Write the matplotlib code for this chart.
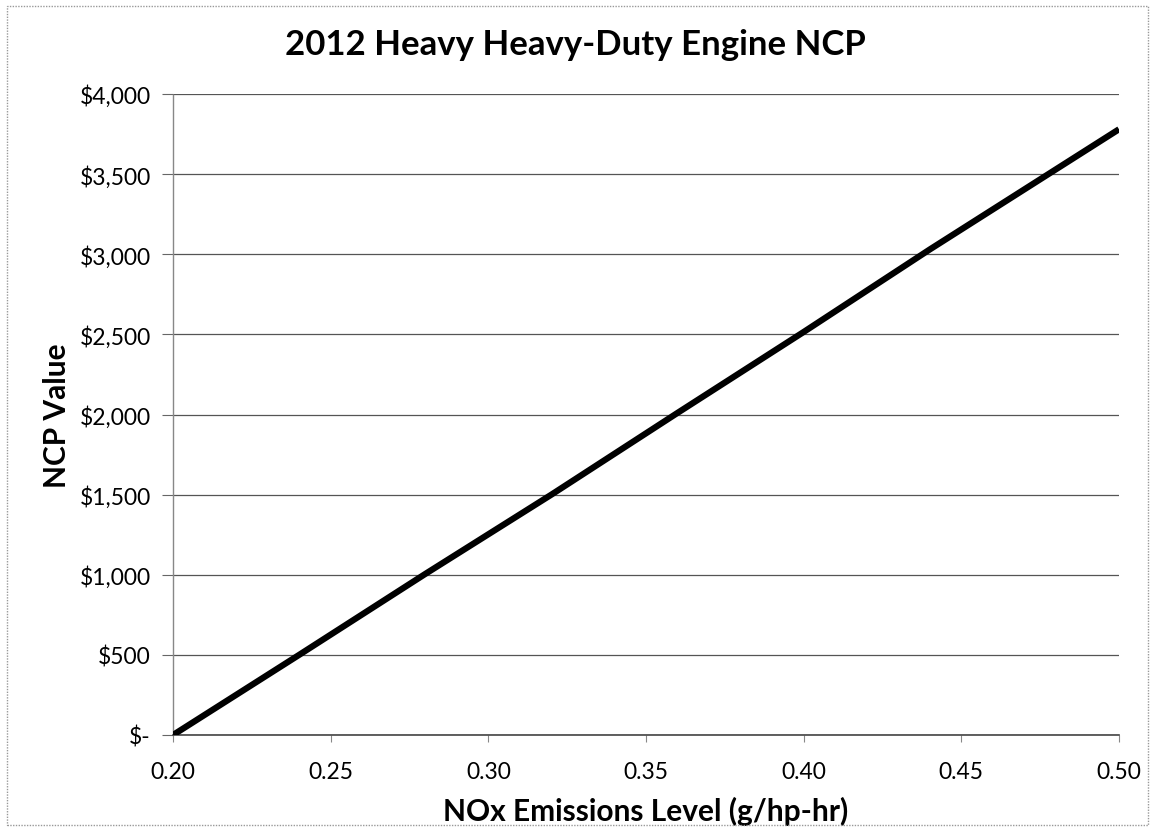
#!/usr/bin/env python3
"""Recreate the 2012 Heavy Heavy-Duty Engine NCP line chart."""

import matplotlib
matplotlib.use("Agg")
import matplotlib.pyplot as plt
from matplotlib.patches import Rectangle
from matplotlib.ticker import FuncFormatter

# NOx emission level (g/hp-hr) and NCP value ($)
nox_level = [0.20, 0.24, 0.28, 0.32, 0.36, 0.40, 0.44, 0.48, 0.50]
ncp_value = [0, 500, 1005, 1500, 2010, 2515, 3030, 3530, 3780]

x_ticks = [0.20, 0.25, 0.30, 0.35, 0.40, 0.45, 0.50]
y_ticks = [0, 500, 1000, 1500, 2000, 2500, 3000, 3500, 4000]


def money(v, _pos):
    if v == 0:
        return "$-"
    return f"${v:,.0f}"


def main() -> None:
    plt.rcParams["font.family"] = ["Lato", "DejaVu Sans"]

    fig = plt.figure(figsize=(11.51, 8.28), dpi=100)
    ax = fig.add_axes([173 / 1151, 1 - 736 / 828, (1119 - 173) / 1151, (736 - 95) / 828])

    ax.plot(nox_level, ncp_value, color="black", linewidth=4.5, solid_capstyle="butt", zorder=3)

    ax.set_xlim(0.20, 0.50)
    ax.set_ylim(0, 4000)
    ax.set_xticks(x_ticks)
    ax.set_xticklabels([f"{t:.2f}" for t in x_ticks])
    ax.set_yticks(y_ticks)
    ax.yaxis.set_major_formatter(FuncFormatter(money))

    ax.yaxis.grid(True, color="#555555", linewidth=0.9)
    ax.set_axisbelow(True)

    for side in ("top", "right"):
        ax.spines[side].set_visible(False)
    ax.spines["left"].set_color("#888888")
    ax.spines["left"].set_linestyle((0, (1, 1)))
    ax.spines["left"].set_linewidth(1)
    ax.spines["bottom"].set_color("#444444")
    ax.spines["bottom"].set_linewidth(1.2)

    ax.tick_params(axis="y", length=8, width=0.8, color="#666666", labelsize=16.5, pad=8)
    ax.tick_params(axis="x", length=5, width=0.8, color="#888888", labelsize=16.5, pad=14)

    ax.set_xlabel("NOx Emissions Level (g/hp-hr)", fontsize=21.5, fontweight="bold", labelpad=10)
    ax.set_ylabel("NCP Value", fontsize=21.5, fontweight="bold", labelpad=6)
    # title is centred on the whole chart area, not on the plot area
    fig.text(0.5, 1 - 45 / 828, "2012 Heavy Heavy-Duty Engine NCP", fontsize=25,
             fontweight="bold", ha="center", va="center")

    # dotted chart-area border
    fig.patches.append(Rectangle((7 / 1151, 0.002), 1 - 10 / 1151, 1 - 7 / 828 - 0.002,
                                 transform=fig.transFigure, fill=False,
                                 edgecolor="#999999", linewidth=1, linestyle=(0, (1, 1))))

    fig.savefig("out.png", dpi=100)
    plt.close(fig)


if __name__ == "__main__":
    main()
